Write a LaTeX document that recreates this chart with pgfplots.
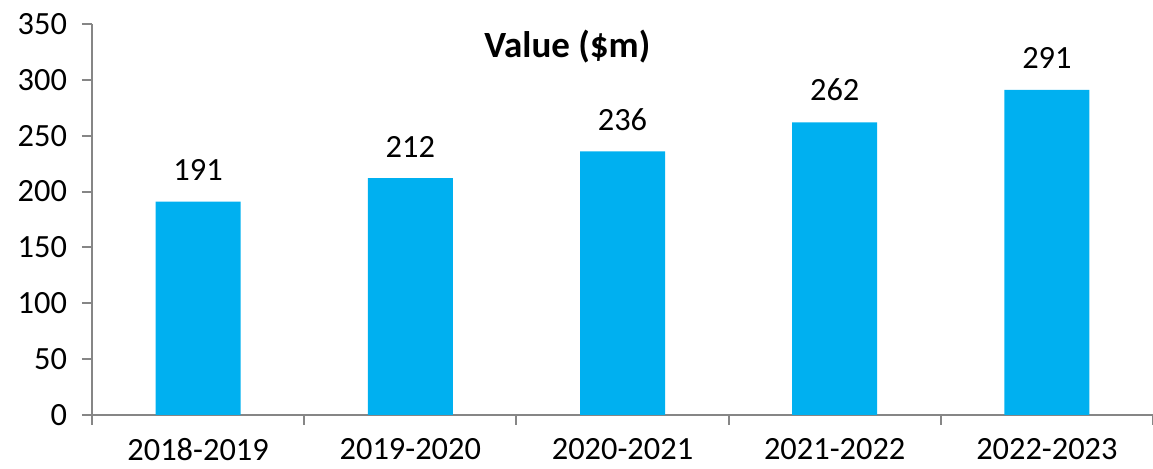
\documentclass[border=0pt]{standalone}
\usepackage{fontspec}
\setmainfont{Carlito}
\usepackage{pgfplots}
\pgfplotsset{compat=1.18}
\definecolor{barBlue}{HTML}{00B0F0}
\definecolor{axGray}{HTML}{868686}

\begin{document}
\begin{tikzpicture}
\begin{axis}[
  scale only axis,
  width=530.5pt, height=195.5pt,
  xmin=-0.5, xmax=4.5, ymin=0, ymax=350,
  axis x line*=bottom, axis y line*=left,
  axis line style={draw=axGray, line width=1pt},
  ytick={0,50,...,350},
  xtick={0,1,2,3,4},
  xticklabels={2018-2019,2019-2020,2020-2021,2021-2022,2022-2023},
  minor xtick={-0.5,0.5,...,4.5},
  major x tick style={draw=none},
  minor x tick style={draw=axGray, line width=1pt},
  y tick style={draw=axGray, line width=1pt},
  tick align=outside,
  major tick length=5pt, minor tick length=5pt,
  /pgf/number format/assume math mode=true,
  tick label style={font=\fontsize{16.2}{18}\selectfont, text=black},
  yticklabel style={xshift=-4pt},
  xticklabel style={yshift=-3pt},
  ybar, bar width=42.5pt,
  nodes near coords,
  every node near coord/.append style={font=\fontsize{16.2}{18}\selectfont, text=black, yshift=7pt},
  clip=false,
]
\addplot[fill=barBlue, draw=none] coordinates {(0,191)(1,212)(2,236)(3,262)(4,291)};
\node[font=\bfseries\fontsize{18.5}{21}\selectfont] at (rel axis cs:0.448,0.941) {Value (\$m)};
\coordinate (bl) at (rel axis cs:0,0);
\coordinate (tr) at (rel axis cs:1,1);
\end{axis}
\pgfresetboundingbox
\path (bl) ++(-46pt,-27pt) coordinate (a);
\path (tr) ++(0pt,12pt) coordinate (b);
\path (a) rectangle (b);
\end{tikzpicture}
\end{document}
